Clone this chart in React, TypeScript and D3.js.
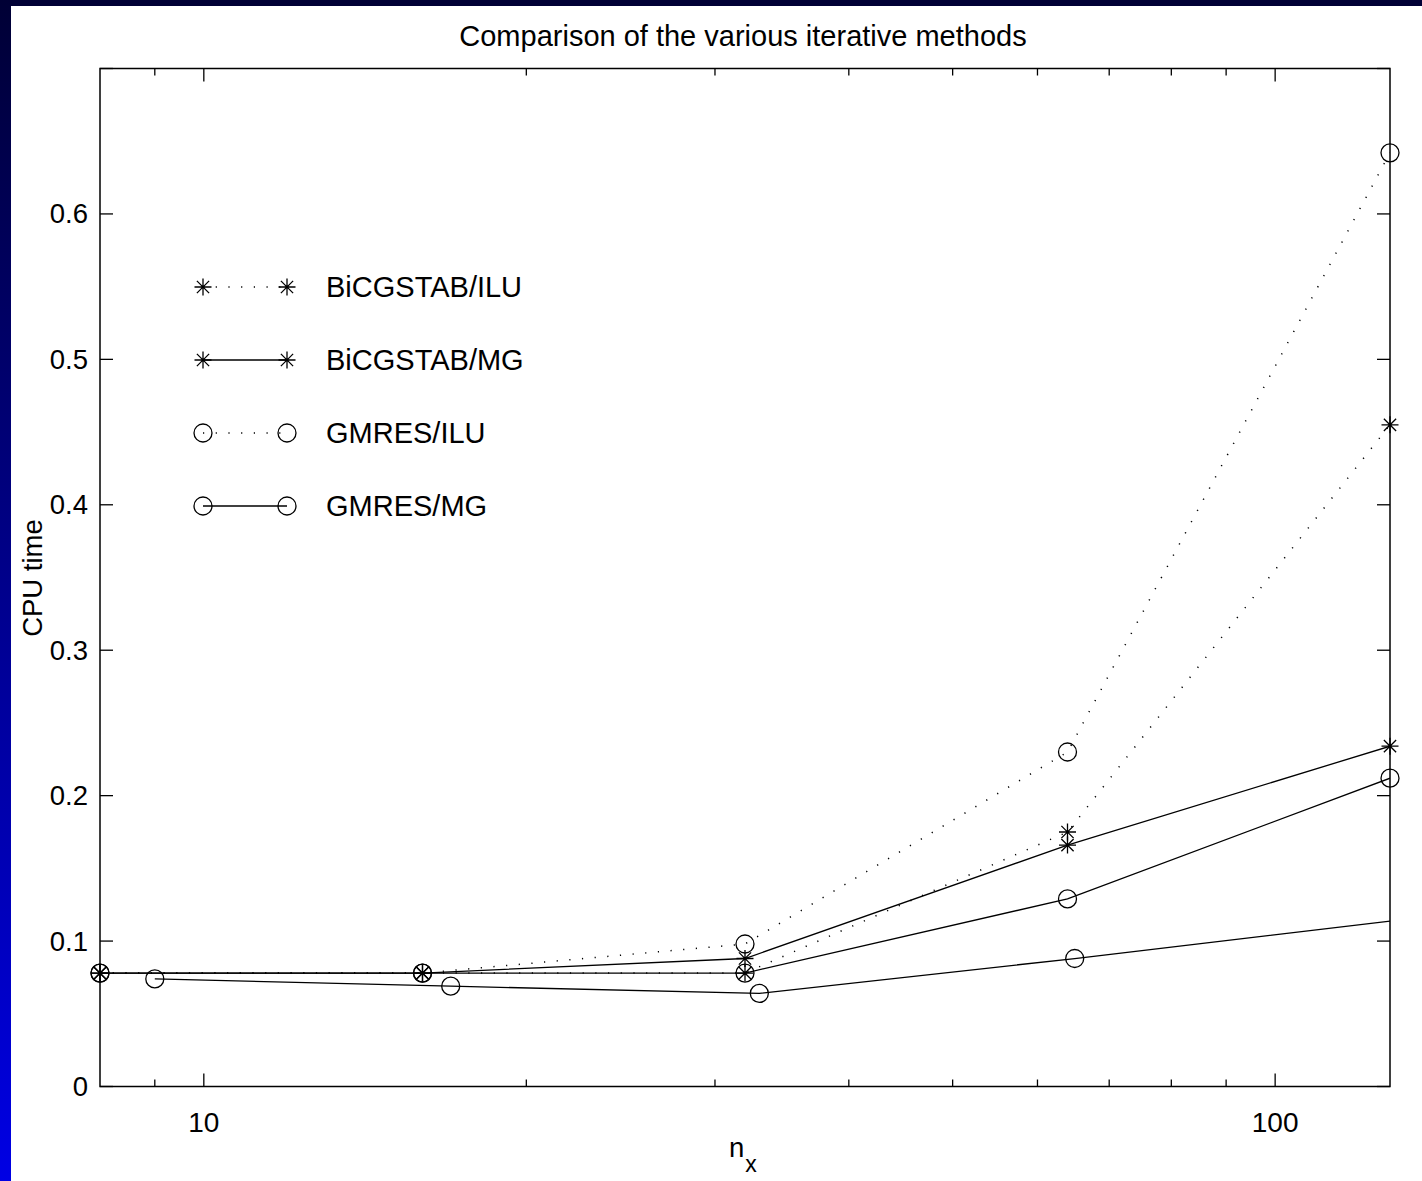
import React from "react";
import * as d3 from "d3";

const nx = [8, 16, 32, 64, 128];
const bicgIlu = [0.078, 0.078, 0.078, 0.175, 0.455];
const bicgMg = [0.078, 0.078, 0.088, 0.166, 0.234];
const gmresIlu = [0.078, 0.078, 0.098, 0.23, 0.642];
const gmresMg = [0.078, 0.078, 0.078, 0.129, 0.212];
const nxExtra = [9, 17, 33, 65, 129];
const gmresExtra = [0.074, 0.069, 0.064, 0.088, 0.114];

const xMajor = [10, 100];
const xMinor = [9, 20, 30, 40, 50, 60, 70, 80, 90];
const yTicks = [0, 0.1, 0.2, 0.3, 0.4, 0.5, 0.6, 0.7];
const yTickLabels = ["0", "0.1", "0.2", "0.3", "0.4", "0.5", "0.6", ""];

const legendItems = [
  { label: "BiCGSTAB/ILU", marker: "star", dotted: true },
  { label: "BiCGSTAB/MG", marker: "star", dotted: false },
  { label: "GMRES/ILU", marker: "circle", dotted: true },
  { label: "GMRES/MG", marker: "circle", dotted: false },
];

const W = 1422;
const H = 1181;
const L = 100, R = 1390, T = 68.5, B = 1086.5;
const FONT = "'Liberation Sans', Arial, Helvetica, sans-serif";

const x = d3.scaleLog().domain([8, 128]).range([L, R]);
const y = d3.scaleLinear().domain([0, 0.7]).range([B, T]);

const starPath = (r: number) => {
  const d = r * 0.72;
  return `M${-r},0H${r}M0,${-r}V${r}M${-d},${-d}L${d},${d}M${-d},${d}L${d},${-d}`;
};

function Marker({ type, cx, cy }: { type: string; cx: number; cy: number }) {
  if (type === "star") {
    return (
      <path
        d={starPath(8.5)}
        transform={`translate(${cx},${cy})`}
        stroke="#000"
        strokeWidth={1.3}
        fill="none"
      />
    );
  }
  return <circle cx={cx} cy={cy} r={9} stroke="#000" strokeWidth={1.3} fill="none" />;
}

type Series = { xs: number[]; ys: number[]; marker: string; dotted: boolean };

const series: Series[] = [
  { xs: nx, ys: bicgIlu, marker: "star", dotted: true },
  { xs: nx, ys: bicgMg, marker: "star", dotted: false },
  { xs: nx, ys: gmresIlu, marker: "circle", dotted: true },
  { xs: nx, ys: gmresMg, marker: "circle", dotted: false },
  { xs: nxExtra, ys: gmresExtra, marker: "circle", dotted: false },
];

export default function App() {
  const line = d3
    .line<[number, number]>()
    .x((d) => x(d[0]))
    .y((d) => y(d[1]));
  const [d0, d1] = x.domain();

  return (
    <svg
      width={W}
      height={H}
      style={{ position: "absolute", left: 0, top: 0, background: "#fff" }}
      fontFamily={FONT}
    >
      <defs>
        <linearGradient id="strip" x1="0" y1="0" x2="0" y2="1">
          <stop offset="0" stopColor="#000035" />
          <stop offset="1" stopColor="#0000e4" />
        </linearGradient>
        <clipPath id="plotClip">
          <rect x={L} y={T} width={R - L} height={B - T} />
        </clipPath>
      </defs>
      <rect x={0} y={0} width={W} height={H} fill="#fff" />
      <rect x={0} y={0} width={W} height={6} fill="#000035" />
      <rect x={0} y={0} width={11} height={H} fill="url(#strip)" />

      {/* title */}
      <text x={743} y={36} textAnchor="middle" dominantBaseline="central" fontSize={29} fill="#000">
        Comparison of the various iterative methods
      </text>

      {/* series lines */}
      <g clipPath="url(#plotClip)">
        {series.map((s, i) => (
          <path
            key={i}
            d={line(s.xs.map((v, j) => [v, s.ys[j]] as [number, number])) || ""}
            fill="none"
            stroke="#000"
            strokeWidth={s.dotted ? 1.5 : 1.3}
            strokeDasharray={s.dotted ? "1.2 11.5" : undefined}
          />
        ))}
      </g>
      {/* markers (not clipped, but only inside the x domain) */}
      {series.map((s, i) =>
        s.xs.map((v, j) =>
          v >= d0 && v <= d1 ? (
            <Marker key={`${i}-${j}`} type={s.marker} cx={x(v)} cy={y(s.ys[j])} />
          ) : null
        )
      )}

      {/* axes box */}
      <rect x={L} y={T} width={R - L} height={B - T} fill="none" stroke="#000" strokeWidth={1.5} />

      {/* x ticks */}
      {xMajor.map((v) => (
        <g key={`xm${v}`}>
          <line x1={x(v)} x2={x(v)} y1={B} y2={B - 13} stroke="#000" strokeWidth={1.3} />
          <line x1={x(v)} x2={x(v)} y1={T} y2={T + 13} stroke="#000" strokeWidth={1.3} />
          <text x={x(v)} y={1122} textAnchor="middle" dominantBaseline="central" fontSize={28}>
            {v}
          </text>
        </g>
      ))}
      {xMinor.map((v) => (
        <g key={`xn${v}`}>
          <line x1={x(v)} x2={x(v)} y1={B} y2={B - 7} stroke="#000" strokeWidth={1.3} />
          <line x1={x(v)} x2={x(v)} y1={T} y2={T + 7} stroke="#000" strokeWidth={1.3} />
        </g>
      ))}

      {/* y ticks */}
      {yTicks.map((v, i) => (
        <g key={`y${v}`}>
          <line x1={L} x2={L + 13} y1={y(v)} y2={y(v)} stroke="#000" strokeWidth={1.3} />
          <line x1={R} x2={R - 13} y1={y(v)} y2={y(v)} stroke="#000" strokeWidth={1.3} />
          <text x={88} y={y(v)} textAnchor="end" dominantBaseline="central" fontSize={27.5}>
            {yTickLabels[i]}
          </text>
        </g>
      ))}

      {/* axis labels */}
      <text x={729} y={1157} fontSize={27.5}>
        n
        <tspan dx={1} dy={15} fontSize={23}>x</tspan>
      </text>
      <text
        transform={`translate(32,578) rotate(-90)`}
        textAnchor="middle"
        dominantBaseline="central"
        fontSize={27.5}
      >
        CPU time
      </text>

      {/* legend */}
      {legendItems.map((it, i) => {
        const ly = 287 + i * 73;
        return (
          <g key={it.label}>
            <line
              x1={203}
              x2={287}
              y1={ly}
              y2={ly}
              stroke="#000"
              strokeWidth={it.dotted ? 1.5 : 1.3}
              strokeDasharray={it.dotted ? "1.2 11.5" : undefined}
            />
            <Marker type={it.marker} cx={203} cy={ly} />
            <Marker type={it.marker} cx={287} cy={ly} />
            <text x={326} y={ly} dominantBaseline="central" fontSize={29}>
              {it.label}
            </text>
          </g>
        );
      })}
    </svg>
  );
}
